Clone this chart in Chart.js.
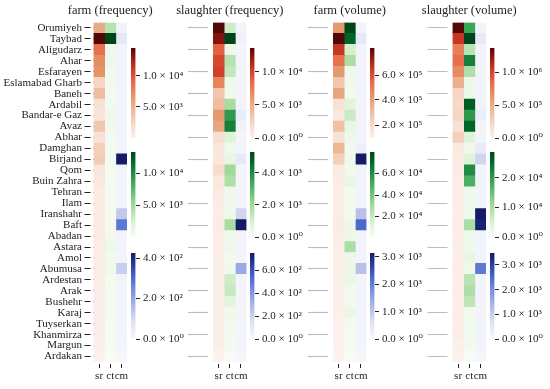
<!DOCTYPE html>
<html>
<head>
<meta charset="utf-8">
<script src="https://cdn.jsdelivr.net/npm/chart.js@4.4.0/dist/chart.umd.min.js"></script>
<style>
body { margin: 0; background: #fff; }
#wrap { position: relative; width: 550px; height: 389px; overflow: hidden; background: #fff; }
#wrap canvas { position: absolute; }
</style>
</head>
<body>
<div id="wrap"></div>
<script>
const cities = [
    'Orumiyeh', 'Taybad', 'Aligudarz', 'Ahar', 'Esfarayen', 'Eslamabad Gharb', 'Baneh', 'Ardabil',
    'Bandar-e Gaz', 'Avaz', 'Abhar', 'Damghan', 'Birjand', 'Qom', 'Buin Zahra', 'Tehran', 'Ilam',
    'Iranshahr', 'Baft', 'Abadan', 'Astara', 'Amol', 'Abumusa', 'Ardestan', 'Arak', 'Bushehr',
    'Karaj', 'Tuyserkan', 'Khanmirza', 'Margun', 'Ardakan'
];
const columns = ['sr', 'ct', 'cm'];
const panelTitles = ['farm (frequency)', 'slaughter (frequency)', 'farm (volume)', 'slaughter (volume)'];

// farm (frequency)
const farmFreqSr = [5500, 14500, 8700, 7200, 6800, 2500, 4300, 1400, 1200, 3600, 1400, 2900, 3200, 1000, 850,
    600, 700, 600, 650, 550, 500, 450, 450, 450, 400, 400, 350, 350, 350, 300, 2];
const farmFreqCt = [4000, 13300, 800, 800, 500, 500, 400, 500, 900, 650, 400, 400, 500, 400, 400,
    350, 400, 350, 400, 500, 1000, 500, 800, 400, 400, 350, 350, 300, 300, 300, 2];
const farmFreqCm = [15, 60, 10, 8, 12, 8, 8, 8, 8, 10, 8, 10, 425, 8, 8,
    8, 8, 130, 280, 8, 8, 8, 120, 8, 8, 8, 8, 8, 8, 5, 0];

// slaughter (frequency)
const slFreqSr = [13600, 12600, 8800, 9800, 10200, 7100, 3400, 4100, 6100, 5400, 1600, 950, 800, 1800, 800,
    650, 550, 500, 550, 450, 450, 400, 400, 400, 400, 400, 350, 350, 350, 300, 0];
const slFreqCt = [1200, 5312, 420, 1600, 1400, 320, 270, 1850, 3700, 4250, 800, 320, 530, 2000, 1750,
    270, 320, 320, 1850, 270, 320, 220, 320, 1170, 1330, 740, 270, 220, 220, 160, 0];
const slFreqCm = [20, 40, 10, 10, 12, 10, 10, 12, 70, 25, 10, 12, 90, 10, 10,
    10, 10, 190, 748, 10, 10, 10, 340, 10, 10, 10, 10, 10, 10, 10, 0];

// farm (volume)
const farmVolSr = [420000, 816000, 658000, 528000, 420000, 276000, 384000, 168000, 139000, 298000, 168000, 326000, 240000, 130000, 125000,
    120000, 122000, 118000, 125000, 115000, 112000, 110000, 110000, 108000, 106000, 105000, 104000, 102000, 100000, 98000, 96000];
const farmVolCt = [80000, 72000, 16000, 28000, 5000, 5000, 4000, 12000, 20000, 9500, 6500, 4000, 5000, 4000, 9500,
    4000, 4000, 4000, 6500, 6500, 28000, 6500, 7000, 8000, 4000, 4000, 8000, 3000, 2500, 2000, 1000];
const farmVolCm = [100, 380, 60, 50, 80, 50, 50, 60, 50, 60, 50, 190, 3146, 50, 50,
    50, 50, 1100, 2250, 50, 50, 50, 1100, 50, 50, 50, 50, 50, 50, 30, 0];

// slaughter (volume)
const slVolSr = [1364000, 1064000, 750000, 820000, 680000, 477000, 232000, 205000, 232000, 136000, 273000, 70000, 60000, 55000, 50000,
    45000, 42000, 40000, 42000, 38000, 36000, 35000, 35000, 34000, 33000, 32000, 31000, 30000, 30000, 20000, 0];
const slVolCt = [18700, 28800, 8600, 23000, 9500, 2300, 2300, 26800, 20200, 25900, 4300, 1700, 4300, 21600, 17300,
    1400, 1400, 1700, 10000, 1400, 1700, 2900, 1700, 8600, 9500, 8000, 1200, 1200, 1000, 1000, 0];
const slVolCm = [100, 420, 80, 80, 100, 80, 80, 120, 280, 100, 80, 350, 870, 80, 80,
    80, 80, 3486, 3380, 80, 80, 80, 2270, 80, 80, 80, 80, 80, 80, 60, 0];

// colour bar tick values (sr, ct, cm) per panel
const colorbarTicks = [
    [[5000, 10000], [5000, 10000], [0, 200, 400]],
    [[0, 5000, 10000], [0, 2000, 4000], [0, 200, 400, 600]],
    [[200000, 400000, 600000], [20000, 40000, 60000], [0, 1000, 2000, 3000]],
    [[0, 500000, 1000000], [0, 10000, 20000], [0, 1000, 2000, 3000]]
];

const panelValues = [
    [farmFreqSr, farmFreqCt, farmFreqCm],
    [slFreqSr, slFreqCt, slFreqCm],
    [farmVolSr, farmVolCt, farmVolCm],
    [slVolSr, slVolCt, slVolCm]
];

// colour maps for sr / ct / cm
const cmaps = [
    [[0, '#fcf2ee'], [0.15, '#f6d9c9'], [0.3, '#efbd9f'], [0.45, '#e39a6c'], [0.6, '#e8704c'], [0.75, '#d1402a'], [0.88, '#a01c12'], [1, '#520806']],
    [[0, '#f7fcf5'], [0.125, '#e5f5e0'], [0.25, '#c7e9c0'], [0.375, '#a1d99b'], [0.5, '#74c476'], [0.625, '#41ab5d'], [0.75, '#238b45'], [0.875, '#006d2c'], [1, '#00441b']],
    [[0, '#f5f6fc'], [0.2, '#dde1f3'], [0.4, '#aab6e6'], [0.6, '#6f88da'], [0.75, '#4060c8'], [0.88, '#27399a'], [1, '#141c66']]
];

// layout
const heatLefts = [93.5, 213, 333, 452.5];
const heatWidth = 33.5;
const heatTop = 22.5, heatBottom = 362;
const barLefts = [131, 250, 370, 490];
const barWidth = 4.5;
const barSpans = [[48, 138], [152, 237], [253, 339]];

const FONT = "'Liberation Serif', 'DejaVu Serif', serif";
Chart.defaults.font.family = FONT;
Chart.defaults.color = '#222';

function hexRgb(h) {
    return [parseInt(h.slice(1, 3), 16), parseInt(h.slice(3, 5), 16), parseInt(h.slice(5, 7), 16)];
}
function colorAt(stops, t) {
    t = Math.max(0, Math.min(1, t));
    for (let i = 1; i < stops.length; i++) {
        if (t <= stops[i][0]) {
            const [p0, c0] = stops[i - 1], [p1, c1] = stops[i];
            const f = (t - p0) / (p1 - p0);
            const a = hexRgb(c0), b = hexRgb(c1);
            return 'rgb(' + a.map((v, k) => Math.round(v + (b[k] - v) * f)).join(',') + ')';
        }
    }
    return stops[stops.length - 1][1];
}

const sup = ['\u2070', '\u00b9', '\u00b2', '\u00b3', '\u2074', '\u2075', '\u2076', '\u2077'];
function sci(v) {
    if (v === 0) return '0.0 \u00d7 10' + sup[0];
    const e = Math.floor(Math.log10(v) + 1e-9);
    return (v / Math.pow(10, e)).toFixed(1) + ' \u00d7 10' + sup[e];
}

const wrap = document.getElementById('wrap');
function addCanvas(left, top, w, h) {
    const c = document.createElement('canvas');
    c.width = w; c.height = h;
    c.style.left = left + 'px'; c.style.top = top + 'px';
    c.style.width = w + 'px'; c.style.height = h + 'px';
    wrap.appendChild(c);
    return c;
}

const titlePlugin = {
    id: 'panelTitle',
    afterDraw(chart, args, opts) {
        const { ctx, chartArea } = chart;
        ctx.save();
        ctx.font = '12.5px ' + FONT;
        ctx.fillStyle = '#222';
        ctx.textAlign = 'center';
        ctx.textBaseline = 'middle';
        ctx.fillText(opts.text, (chartArea.left + chartArea.right) / 2, opts.y);
        ctx.restore();
    }
};

panelValues.forEach((values, p) => {
    const first = p === 0;
    const yw = first ? 93.5 : 27;
    const heatLeft = heatLefts[p];
    const left = Math.max(0, Math.floor(heatLeft - yw - 40));
    const right = Math.min(550, Math.ceil(heatLeft + heatWidth + 60));
    const canvas = addCanvas(left, 0, right - left, 389);

    new Chart(canvas, {
        type: 'bar',
        data: {
            labels: cities,
            datasets: columns.map((col, c) => {
                const vals = values[c];
                const lo = Math.min(...vals), hi = Math.max(...vals);
                return {
                    label: col,
                    data: vals.map(() => [c, c + 1]),
                    backgroundColor: vals.map(v => colorAt(cmaps[c], (v - lo) / (hi - lo))),
                    grouped: false,
                    barPercentage: 1,
                    categoryPercentage: 1,
                    borderWidth: 0
                };
            })
        },
        options: {
            indexAxis: 'y',
            responsive: false,
            animation: false,
            layout: {
                padding: {
                    top: heatTop,
                    left: heatLeft - yw - left,
                    right: right - (heatLeft + heatWidth),
                    bottom: 0
                }
            },
            plugins: {
                legend: { display: false },
                tooltip: { enabled: false },
                panelTitle: { text: panelTitles[p], y: 11 }
            },
            scales: {
                x: {
                    type: 'linear',
                    min: 0,
                    max: 3,
                    afterBuildTicks: s => { s.ticks = [0.5, 1.5, 2.5].map(v => ({ value: v })); },
                    afterFit: s => { s.height = 389 - heatBottom; },
                    ticks: {
                        autoSkip: false,
                        maxRotation: 0,
                        padding: 2,
                        font: { size: 11 },
                        callback: (v, i) => columns[i]
                    },
                    grid: {
                        drawOnChartArea: false,
                        tickLength: 6,
                        tickColor: '#222',
                        tickBorderDash: [0, 2, 4, 100]
                    },
                    border: { display: false }
                },
                y: {
                    type: 'category',
                    afterFit: s => { s.width = yw; },
                    ticks: {
                        display: first,
                        autoSkip: false,
                        padding: 2.5,
                        font: { size: 11 },
                        color: '#222'
                    },
                    grid: {
                        offset: false,
                        drawOnChartArea: false,
                        tickLength: first ? 9 : 25,
                        tickWidth: first ? 1 : 1.2,
                        tickBorderDash: first ? [6, 3] : [20, 5],
                        tickColor: first ? '#222' : (ctx => ctx.index % 2 === 0 ? '#bdbdbd' : 'rgba(0,0,0,0)')
                    },
                    border: { display: false }
                }
            }
        },
        plugins: [titlePlugin]
    });

    // colour bars for sr, ct, cm
    values.forEach((vals, c) => {
        const lo = Math.min(...vals), hi = Math.max(...vals);
        const [top, bottom] = barSpans[c];
        const w = Math.min(62, 550 - barLefts[p]);
        const cb = addCanvas(barLefts[p], top - 10, w, bottom - top + 20);
        const stops = cmaps[c];
        const tickVals = colorbarTicks[p][c];
        new Chart(cb, {
            type: 'bar',
            data: {
                labels: [''],
                datasets: [{
                    data: [[lo, hi]],
                    barPercentage: 1,
                    categoryPercentage: 1,
                    borderWidth: 0,
                    backgroundColor: ctx => {
                        const a = ctx.chart.chartArea;
                        if (!a) return stops[0][1];
                        const g = ctx.chart.ctx.createLinearGradient(0, a.bottom, 0, a.top);
                        stops.forEach(([pos, col]) => g.addColorStop(pos, col));
                        return g;
                    }
                }]
            },
            options: {
                responsive: false,
                animation: false,
                layout: { padding: { top: 10, bottom: 10, left: 0, right: 0 } },
                plugins: { legend: { display: false }, tooltip: { enabled: false } },
                scales: {
                    x: { display: false },
                    y: {
                        position: 'right',
                        min: lo,
                        max: hi,
                        afterBuildTicks: s => {
                            s.ticks = tickVals.filter(v => v >= lo && v <= hi).map(v => ({ value: v }));
                        },
                        afterFit: s => { s.width = w - barWidth; },
                        ticks: {
                            padding: 3,
                            font: { size: 11 },
                            color: '#222',
                            callback: v => sci(v)
                        },
                        grid: { drawOnChartArea: false, tickLength: 4.5, tickColor: '#222' },
                        border: { display: false }
                    }
                }
            }
        });
    });
});
</script>
</body>
</html>
